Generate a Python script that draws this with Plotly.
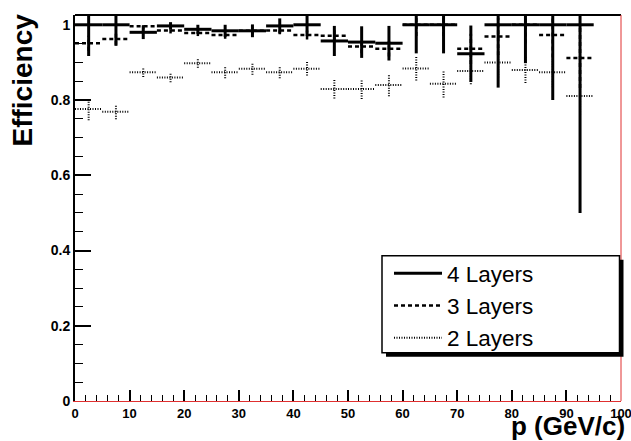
import plotly.graph_objects as go

# ---------------- data ----------------
bin_low = [0, 5, 10, 15, 20, 25, 30, 35, 40, 45, 50, 55, 60, 65, 70, 75, 80, 85, 90]
bin_width = 5

eff4 = [1.0, 1.0, 0.98, 0.997, 0.988, 0.984, 0.984, 0.997, 1.0, 0.957, 0.954, 0.951,
        1.0, 1.0, 0.923, 1.0, 1.0, 1.0, 1.0]
err4 = [0.083, 0.056, 0.018, 0.01, 0.012, 0.016, 0.017, 0.02, 0.03, 0.04, 0.042, 0.046,
        0.076, 0.076, 0.075, 0.167, 0.102, 0.2, 0.5]

eff3 = [0.951, 0.962, 0.996, 0.985, 0.978, 0.973, 0.984, 0.985, 0.973, 0.971, 0.942, 0.936,
        1.0, 1.0, 0.936, 0.969, 1.0, 0.973, 0.912]
err3 = [0.02, 0.015, 0.008, 0.008, 0.008, 0.01, 0.01, 0.01, 0.012, 0.015, 0.018, 0.02,
        0.03, 0.03, 0.04, 0.05, 0.05, 0.06, 0.08]

eff2 = [0.776, 0.769, 0.874, 0.86, 0.898, 0.874, 0.883, 0.874, 0.883, 0.829, 0.829, 0.84,
        0.884, 0.843, 0.877, 0.9, 0.88, 0.874, 0.811]
err2 = [0.03, 0.02, 0.013, 0.013, 0.012, 0.016, 0.016, 0.016, 0.018, 0.025, 0.026, 0.03,
        0.032, 0.036, 0.035, 0.04, 0.035, 0.04, 0.05]

series_names = ["4 Layers", "3 Layers", "2 Layers"]
y_tick_vals = [0, 0.2, 0.4, 0.6, 0.8, 1.0]
y_tick_text = ["0", "0.2", "0.4", "0.6", "0.8", "1"]

# ---------------- helpers ----------------
def hist_segments(values):
    xs, ys = [], []
    for lo, v in zip(bin_low, values):
        xs += [lo, lo + bin_width, None]
        ys += [v, v, None]
    return xs, ys


def err_segments(values, errors):
    xs, ys = [], []
    for lo, v, e in zip(bin_low, values, errors):
        c = lo + bin_width / 2
        xs += [c, c, None]
        ys += [v - e, v + e, None]
    return xs, ys


styles = [
    dict(color="black", width=3, dash="solid"),
    dict(color="black", width=2.5, dash="4px,3px"),
    dict(color="black", width=2, dash="1px,1.5px"),
]

fig = go.Figure()
for name, eff, err, st in zip(series_names, [eff4, eff3, eff2], [err4, err3, err2], styles):
    ex, ey = err_segments(eff, err)
    fig.add_trace(go.Scatter(x=ex, y=ey, mode="lines", line=st, showlegend=False,
                             legendgroup=name, hoverinfo="skip"))
    hx, hy = hist_segments(eff)
    fig.add_trace(go.Scatter(x=hx, y=hy, mode="lines", line=st, name=name,
                             legendgroup=name))

FONT = "Liberation Sans, Arial, Helvetica, sans-serif"
bold_tick = dict(family=FONT, size=13, color="black", weight="bold")

# plot area in pixels: x 75..621, y 15..401
PL, PR, PT, PB = 75, 621, 15, 401
def px(x):
    return (x - PL) / (PR - PL)
def py(y):
    return (PB - y) / (PB - PT)

fig.update_layout(
    width=631, height=441,
    margin=dict(l=PL, r=631 - PR, t=PT, b=441 - PB, pad=0, autoexpand=False),
    paper_bgcolor="white", plot_bgcolor="white",
    font=dict(family=FONT, color="black"),
    xaxis=dict(range=[0, 100], dtick=10, tick0=0, ticks="inside", ticklen=11,
               tickwidth=1.5, tickcolor="black", showgrid=False, zeroline=False,
               showline=True, linecolor="#e03030", linewidth=1, automargin=False,
               tickfont=bold_tick, ticklabelstandoff=0, ticklabeloverflow="allow",
               minor=dict(dtick=2, ticks="inside", ticklen=6, tickwidth=1,
                          tickcolor="black", showgrid=False)),
    yaxis=dict(range=[0, 1.026], tickmode="array", tickvals=y_tick_vals,
               ticktext=y_tick_text, ticks="inside", ticklen=16, tickwidth=1.5,
               tickcolor="black", showgrid=False, zeroline=False, automargin=False,
               showline=True, linecolor="black", linewidth=2,
               tickfont=dict(bold_tick, size=14), ticklabelstandoff=0,
               ticklabeloverflow="allow",
               minor=dict(dtick=0.05, tick0=0, ticks="inside", ticklen=8, tickwidth=1,
                          tickcolor="black", showgrid=False)),
    legend=dict(x=px(389), y=py(252), xanchor="left", yanchor="top",
                bgcolor="rgba(0,0,0,0)", borderwidth=0,
                font=dict(family=FONT, size=22.5, color="black"),
                itemwidth=48, tracegroupgap=0),
    shapes=[
        # frame: top black, right red
        dict(type="line", xref="paper", yref="paper", x0=0, x1=1, y0=1, y1=1,
             line=dict(color="black", width=2)),
        dict(type="line", xref="paper", yref="paper", x0=1, x1=1, y0=0, y1=1,
             line=dict(color="#e03030", width=1)),
        # legend shadow and box
        dict(type="rect", xref="paper", yref="paper", layer="above",
             x0=px(386), x1=px(623.5), y0=py(356.7), y1=py(259.7),
             fillcolor="black", line=dict(width=0)),
        dict(type="rect", xref="paper", yref="paper", layer="above",
             x0=px(382), x1=px(619.5), y0=py(352.7), y1=py(255.7),
             fillcolor="white", line=dict(color="black", width=1.5)),
    ],
    annotations=[
        dict(text="Efficiency", textangle=-90, xref="paper", yref="paper",
             x=0, y=1, xanchor="center", yanchor="top", xshift=-53, yshift=3,
             showarrow=False, font=dict(family=FONT, size=28, weight="bold")),
        dict(text="p (GeV/c)", xref="paper", yref="paper", x=1, y=0,
             xanchor="right", yanchor="top", yshift=-8, xshift=6,
             showarrow=False, font=dict(family=FONT, size=26, weight="bold")),
    ],
)

fig.write_html("out.html", config={"displayModeBar": False},
               post_script="document.body.style.margin='0';document.body.style.overflow='hidden';")
